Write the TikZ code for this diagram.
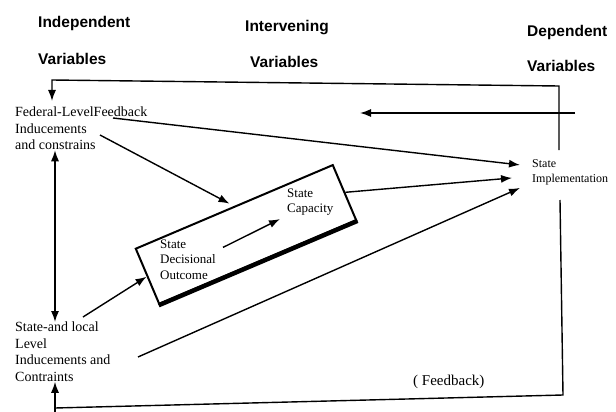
\documentclass[tikz,border=0pt]{standalone}
\usepackage{fontspec}
\setmainfont{Liberation Serif}
\newfontfamily\headfont{Liberation Sans}
\usetikzlibrary{arrows.meta,positioning}
\tikzset{head/.style={font=\headfont\bfseries\fontsize{15.5}{18}\selectfont,anchor=base west,inner sep=0pt},
  lbl/.style={font=\fontsize{14}{16.5}\selectfont,align=left,anchor=north west,inner sep=0pt},
  inbox/.style={font=\fontsize{13}{15.5}\selectfont,align=left,anchor=north west,inner sep=0pt},
  small/.style={font=\fontsize{12}{15}\selectfont,align=left,anchor=north west,inner sep=0pt},
  flow/.style={line width=1.4pt,->}}

\begin{document}
\begin{tikzpicture}[x=1pt,y=-1pt,>={Latex[length=11pt,width=8pt]}]
        \useasboundingbox (0,0) rectangle (616,412);
        \node[head] (ind1) at (38,28) {Independent};
        \node[head] (ind2) at (38,65) {Variables};
        \node[head] (int1) at (245,32) {Intervening};
        \node[head] (int2) at (250,68) {Variables};
        \node[head] (dep1) at (527,37) {Dependent};
        \node[head] (dep2) at (527,72) {Variables};

        \node[lbl] (fed) at (15,107) {Federal-LevelFeedback\\Inducements\\and constrains};
        \node[lbl] (loc) at (15,322) {State-and local\\Level\\Inducements and\\Contraints};
        \node[small] (impl) at (532,159) {State\\Implementation};
        \node[lbl,anchor=base west,font=\fontsize{15}{18}\selectfont] (fbk) at (413,385) {( Feedback)};

        \node[draw,line width=2pt,rotate=23,minimum width=214pt,minimum height=60pt] (dec) at (246,234.5) {};
        \draw[line width=4.5pt] (dec.south west) -- (dec.south east);
        \node[inbox] (sdo) at (160,239.4) {State\\Decisional\\Outcome};
        \node[inbox] (cap) at (287,188.4) {State\\Capacity};

        \coordinate (tl) at (52,80);
        \coordinate (tr) at (559,86);
        \coordinate (ru) at (559,150);
        \coordinate (rl) at (560,200);
        \coordinate (br) at (563,395);
        \coordinate (bl) at (55,408);
        \coordinate (bot) at (55,412);
        \coordinate (lx) at (55,0);
        \coordinate (m1) at (575,113);
        \coordinate (m2) at (360,113);
        \coordinate (fb) at (113,118);
        \coordinate (fi) at (100,135);
        \coordinate (la) at (83,317);
        \coordinate (lb) at (138,357);

        % feedback loops
        \draw [flow,shorten >=6pt] (ru) -- (tr) -- (tl) -- (tl |- fed.north);
        \draw [line width=1.4pt] (rl) -- (br) -- (bl);
        \draw [flow] (bot) -- (loc.south -| bot);
        \draw [flow] (m1) -- (m2);

        \draw [flow,<->] (fed.south -| lx) -- (loc.north -| lx);
        \draw [flow] (fb) -- ([xshift=-12pt,yshift=7pt]impl.west);
        \draw [flow,shorten >=5pt] (fi) -- (dec.north);
        \draw [flow] (la) -- (dec.west);
        \draw [flow] (lb) -- ([xshift=-12pt,yshift=-16pt]impl.west);
        \draw [flow] (dec.east) -- ([xshift=-20pt,yshift=-6pt]impl.west);
        \draw [flow] ([xshift=7pt,yshift=-8pt]sdo.north east) -- ([xshift=-7pt,yshift=-17pt]cap.west);

    \end{tikzpicture}
\end{document}
